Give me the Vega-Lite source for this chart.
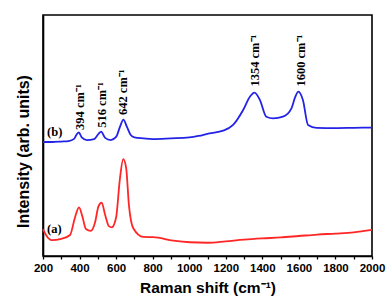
{
  "$schema": "https://vega.github.io/schema/vega-lite/v6.json",
  "width": 329,
  "height": 241,
  "autosize": {"type": "none"},
  "padding": {"left": 43, "top": 15, "right": 20, "bottom": 50},
  "background": "white",
  "config": {
    "view": {"stroke": "black", "strokeWidth": 1.6},
    "font": "Liberation Sans"
  },
  "datasets": {
    "spectra": [
      {"shift": 200, "intensity": 47.3, "sample": "b"},
      {"shift": 250, "intensity": 47.3, "sample": "b"},
      {"shift": 300, "intensity": 47.5, "sample": "b"},
      {"shift": 340, "intensity": 47.7, "sample": "b"},
      {"shift": 370, "intensity": 48.6, "sample": "b"},
      {"shift": 385, "intensity": 50.5, "sample": "b"},
      {"shift": 396, "intensity": 51.3, "sample": "b"},
      {"shift": 412, "intensity": 49.2, "sample": "b"},
      {"shift": 440, "intensity": 48.1, "sample": "b"},
      {"shift": 480, "intensity": 48.5, "sample": "b"},
      {"shift": 505, "intensity": 50.8, "sample": "b"},
      {"shift": 518, "intensity": 51.6, "sample": "b"},
      {"shift": 540, "intensity": 49.0, "sample": "b"},
      {"shift": 570, "intensity": 48.1, "sample": "b"},
      {"shift": 600, "intensity": 49.4, "sample": "b"},
      {"shift": 622, "intensity": 53.8, "sample": "b"},
      {"shift": 640, "intensity": 56.6, "sample": "b"},
      {"shift": 658, "intensity": 53.8, "sample": "b"},
      {"shift": 680, "intensity": 50.2, "sample": "b"},
      {"shift": 700, "intensity": 49.2, "sample": "b"},
      {"shift": 750, "intensity": 48.8, "sample": "b"},
      {"shift": 800, "intensity": 48.5, "sample": "b"},
      {"shift": 900, "intensity": 48.8, "sample": "b"},
      {"shift": 1000, "intensity": 49.2, "sample": "b"},
      {"shift": 1050, "intensity": 49.8, "sample": "b"},
      {"shift": 1110, "intensity": 50.9, "sample": "b"},
      {"shift": 1185, "intensity": 52.0, "sample": "b"},
      {"shift": 1240, "intensity": 54.4, "sample": "b"},
      {"shift": 1295, "intensity": 60.6, "sample": "b"},
      {"shift": 1332, "intensity": 66.1, "sample": "b"},
      {"shift": 1357, "intensity": 67.8, "sample": "b"},
      {"shift": 1387, "intensity": 64.7, "sample": "b"},
      {"shift": 1422, "intensity": 57.8, "sample": "b"},
      {"shift": 1459, "intensity": 57.1, "sample": "b"},
      {"shift": 1513, "intensity": 57.8, "sample": "b"},
      {"shift": 1560, "intensity": 61.4, "sample": "b"},
      {"shift": 1580, "intensity": 66.0, "sample": "b"},
      {"shift": 1597, "intensity": 68.2, "sample": "b"},
      {"shift": 1622, "intensity": 64.7, "sample": "b"},
      {"shift": 1650, "intensity": 54.4, "sample": "b"},
      {"shift": 1697, "intensity": 53.2, "sample": "b"},
      {"shift": 1800, "intensity": 53.1, "sample": "b"},
      {"shift": 1900, "intensity": 53.2, "sample": "b"},
      {"shift": 2000, "intensity": 53.3, "sample": "b"},
      {"shift": 200, "intensity": 11.1, "sample": "a"},
      {"shift": 220, "intensity": 8.3, "sample": "a"},
      {"shift": 247, "intensity": 6.6, "sample": "a"},
      {"shift": 300, "intensity": 7.1, "sample": "a"},
      {"shift": 348, "intensity": 8.7, "sample": "a"},
      {"shift": 375, "intensity": 16.0, "sample": "a"},
      {"shift": 397, "intensity": 20.2, "sample": "a"},
      {"shift": 415, "intensity": 16.5, "sample": "a"},
      {"shift": 435, "intensity": 11.2, "sample": "a"},
      {"shift": 461, "intensity": 10.4, "sample": "a"},
      {"shift": 485, "intensity": 14.0, "sample": "a"},
      {"shift": 503, "intensity": 20.5, "sample": "a"},
      {"shift": 521, "intensity": 22.1, "sample": "a"},
      {"shift": 540, "intensity": 17.0, "sample": "a"},
      {"shift": 560, "intensity": 12.4, "sample": "a"},
      {"shift": 576, "intensity": 11.9, "sample": "a"},
      {"shift": 600, "intensity": 16.0, "sample": "a"},
      {"shift": 620, "intensity": 31.5, "sample": "a"},
      {"shift": 639, "intensity": 40.2, "sample": "a"},
      {"shift": 655, "intensity": 36.5, "sample": "a"},
      {"shift": 670, "intensity": 21.2, "sample": "a"},
      {"shift": 694, "intensity": 11.5, "sample": "a"},
      {"shift": 749, "intensity": 7.9, "sample": "a"},
      {"shift": 803, "intensity": 7.8, "sample": "a"},
      {"shift": 912, "intensity": 6.4, "sample": "a"},
      {"shift": 1004, "intensity": 5.7, "sample": "a"},
      {"shift": 1100, "intensity": 5.5, "sample": "a"},
      {"shift": 1200, "intensity": 6.1, "sample": "a"},
      {"shift": 1300, "intensity": 6.8, "sample": "a"},
      {"shift": 1400, "intensity": 7.3, "sample": "a"},
      {"shift": 1500, "intensity": 7.7, "sample": "a"},
      {"shift": 1600, "intensity": 8.3, "sample": "a"},
      {"shift": 1700, "intensity": 8.9, "sample": "a"},
      {"shift": 1800, "intensity": 9.3, "sample": "a"},
      {"shift": 1900, "intensity": 9.8, "sample": "a"},
      {"shift": 2000, "intensity": 10.8, "sample": "a"}
    ],
    "peaks": [
      {"shift": 402, "intensity": 52.3, "label": "394 cm⁻¹"},
      {"shift": 521, "intensity": 53.2, "label": "516 cm⁻¹"},
      {"shift": 638, "intensity": 58.5, "label": "642 cm⁻¹"},
      {"shift": 1360, "intensity": 70.3, "label": "1354 cm⁻¹"},
      {"shift": 1611, "intensity": 70.3, "label": "1600 cm⁻¹"}
    ],
    "tags": [
      {"shift": 222, "intensity": 51.5, "label": "(b)"},
      {"shift": 222, "intensity": 11.1, "label": "(a)"}
    ]
  },
  "resolve": {"axis": {"x": "independent"}, "scale": {"x": "shared"}},
  "layer": [
    {
      "data": {"name": "spectra"},
      "mark": {"type": "line", "strokeWidth": 1.8, "interpolate": "monotone"},
      "encoding": {
        "x": {
          "field": "shift", "type": "quantitative",
          "scale": {"domain": [200, 2000], "nice": false},
          "axis": {
            "orient": "bottom",
            "title": "Raman shift (cm⁻¹)",
            "values": [200, 400, 600, 800, 1000, 1200, 1400, 1600, 1800, 2000],
            "format": "d",
            "grid": false,
            "domainColor": "black", "domainWidth": 1.6,
            "tickColor": "black", "tickSize": 3, "tickWidth": 1.3,
            "labelFontSize": 11.5, "labelFontWeight": "bold", "labelColor": "black",
            "labelPadding": 3, "labelFlush": false, "labelOverlap": false,
            "titleFontSize": 15.5, "titleFontWeight": "bold", "titleColor": "black",
            "titlePadding": 7
          }
        },
        "y": {
          "field": "intensity", "type": "quantitative",
          "scale": {"domain": [0, 100], "nice": false},
          "axis": {
            "title": "Intensity (arb. units)",
            "labels": false, "ticks": false, "grid": false,
            "domainColor": "black", "domainWidth": 1.6,
            "titleFontSize": 16, "titleFontWeight": "bold", "titleColor": "black",
            "titlePadding": 12, "titleY": 136
          }
        },
        "color": {
          "field": "sample", "type": "nominal",
          "scale": {"domain": ["a", "b"], "range": ["#ff2626", "#2323e6"]},
          "legend": null
        }
      }
    },
    {
      "data": {"name": "peaks"},
      "mark": {"type": "text", "angle": 270, "align": "left", "baseline": "middle", "font": "Liberation Serif", "fontWeight": "bold", "fontSize": 12.5, "color": "black"},
      "encoding": {
        "x": {
          "field": "shift", "type": "quantitative",
          "axis": {
            "orient": "bottom",
            "title": null,
            "values": [300, 500, 700, 900, 1100, 1300, 1500, 1700, 1900],
            "labels": false, "domain": false, "grid": false,
            "tickColor": "black", "tickSize": 3, "tickWidth": 1.3
          }
        },
        "y": {"field": "intensity", "type": "quantitative"},
        "text": {"field": "label"}
      }
    },
    {
      "data": {"name": "tags"},
      "mark": {"type": "text", "align": "left", "baseline": "middle", "font": "Liberation Serif", "fontWeight": "bold", "fontSize": 12.5, "color": "black"},
      "encoding": {
        "x": {"field": "shift", "type": "quantitative", "axis": null},
        "y": {"field": "intensity", "type": "quantitative"},
        "text": {"field": "label"}
      }
    }
  ]
}
